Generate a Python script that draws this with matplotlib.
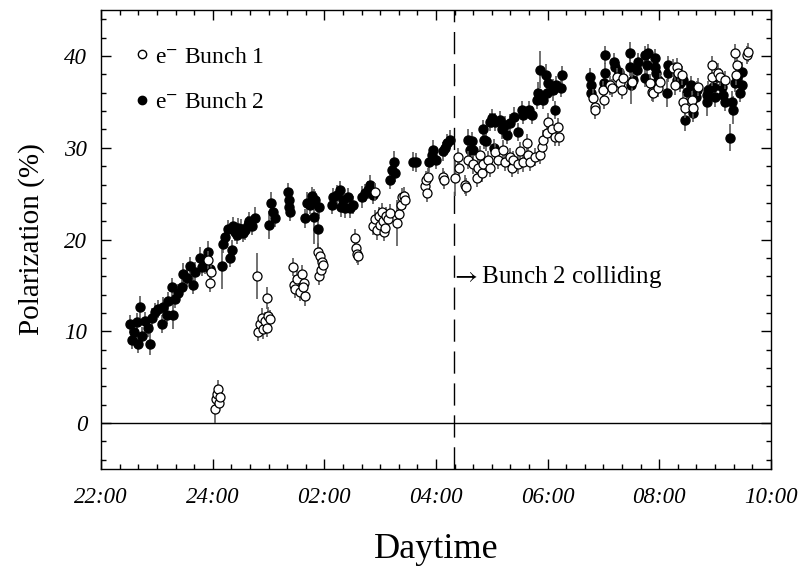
import matplotlib
matplotlib.use("Agg")
import matplotlib.pyplot as plt
from matplotlib.lines import Line2D
import numpy as np

plt.rcParams['font.family'] = ['Liberation Serif', 'DejaVu Serif']
plt.rcParams['mathtext.fontset'] = 'stix'

# time in hours (24 = midnight, 28 = 04:00), polarization in %, error in %
t1 = [23.92, 23.95, 23.97, 24.04, 24.06, 24.08, 24.10, 24.11, 24.13,
      24.80, 24.97, 24.81, 24.85, 24.89, 24.90, 24.94, 24.97, 24.99, 25.03,
      25.44, 25.46, 25.48, 25.51, 25.57, 25.60, 25.64, 25.66, 25.62,
      25.89, 25.91, 25.92, 25.94, 25.96, 25.98,
      26.55, 26.57, 26.59, 26.61,
      26.87, 26.91, 26.91, 26.95, 26.98, 27.00, 27.04, 27.05, 27.07, 27.09, 27.11, 27.14, 27.18,
      27.30, 27.34, 27.38, 27.39, 27.43, 27.45,
      27.81, 27.82, 27.84, 27.86, 28.13, 28.15,
      28.34, 28.40, 28.41, 28.52, 28.54, 28.58, 28.67, 28.74, 28.76, 28.79, 28.83, 28.85,
      28.94, 28.97, 29.06, 29.11, 29.20, 29.24, 29.33, 29.37, 29.38, 29.47, 29.51, 29.56,
      29.63, 29.65, 29.69, 29.78, 29.87, 29.90, 29.92, 29.99, 30.01, 30.08, 30.14, 30.19, 30.21,
      30.82, 30.84, 30.85, 31.00, 31.01, 31.12, 31.16, 31.25, 31.30, 31.34, 31.35, 31.52,
      31.84, 31.87, 31.89, 31.98, 32.02, 32.25, 32.29, 32.32, 32.34, 32.41, 32.43, 32.47,
      32.59, 32.61, 32.70, 32.95, 32.95, 33.06, 33.09, 33.18, 33.36, 33.40, 33.38, 33.58, 33.59]
p1 = [17.8, 15.3, 16.5, 1.5, 2.6, 3.2, 3.7, 2.2, 2.8,
      16.0, 13.6, 9.9, 10.8, 11.5, 10.2, 11.1, 10.4, 11.7, 11.3,
      17.0, 15.1, 14.6, 15.7, 14.3, 16.2, 15.3, 13.8, 14.8,
      18.6, 16.0, 18.2, 16.7, 17.6, 17.2,
      20.2, 19.1, 18.4, 18.2,
      21.5, 22.2, 25.2, 21.0, 22.6, 21.6, 23.0, 22.0, 20.8, 21.3, 22.6, 22.2, 22.9,
      21.8, 22.8, 23.8, 24.6, 24.7, 24.3,
      25.8, 26.5, 25.1, 26.8, 26.8, 26.5,
      26.7, 29.0, 27.8, 26.0, 25.7, 28.7, 28.2, 26.7, 27.8, 29.2, 27.3, 28.2,
      28.7, 27.8, 29.5, 28.7, 29.8, 28.5, 29.0, 27.8, 28.7, 28.2, 29.6, 28.4,
      30.5, 29.2, 28.5, 29.0, 29.2, 30.1, 30.9, 31.6, 32.8, 32.0, 31.2, 32.3, 31.2,
      35.4, 34.5, 34.1, 36.3, 35.2, 36.8, 36.5, 37.7, 37.1, 36.3, 37.6, 37.2,
      37.1, 36.1, 36.0, 36.5, 37.2, 38.7, 36.8, 38.8, 38.2, 37.9, 35.0, 34.3,
      35.2, 34.3, 36.6, 39.0, 37.7, 38.2, 37.7, 37.4, 40.3, 39.0, 37.9, 40.1, 40.4]
e1 = [1.0, 1.0, 1.0, 1.5, 1.0, 1.0, 1.0, 1.0, 1.0,
      2.5, 1.2, 1.0, 1.0, 1.0, 1.0, 1.0, 1.0, 1.0, 1.0,
      1.0, 1.0, 1.0, 1.0, 1.0, 1.0, 1.0, 1.0, 1.0,
      1.0, 1.0, 1.0, 1.0, 1.0, 1.0,
      1.0, 1.0, 1.0, 1.0,
      1.0, 1.0, 1.0, 1.0, 1.0, 1.0, 1.0, 1.0, 1.0, 1.0, 1.0, 1.0, 1.0,
      2.5, 1.0, 1.0, 1.0, 1.0, 1.0,
      1.0, 1.0, 1.0, 1.0, 1.0, 1.0,
      2.0, 1.0, 1.0, 1.0, 1.0, 1.0, 1.0, 1.0, 1.0, 1.0, 1.0, 1.0,
      1.0, 1.0, 1.0, 1.0, 1.0, 1.0, 1.0, 1.0, 1.0, 1.0, 1.0, 1.0,
      1.0, 1.0, 1.0, 1.0, 1.0, 1.0, 1.0, 1.0, 1.0, 1.0, 1.0, 1.0, 1.0,
      1.0, 1.0, 1.0, 1.0, 1.0, 1.0, 1.0, 1.0, 1.0, 1.0, 1.0, 1.0,
      1.0, 1.0, 1.0, 1.0, 1.0, 1.0, 1.0, 1.0, 1.0, 1.0, 1.0, 1.0,
      1.0, 1.0, 1.0, 1.0, 1.0, 1.0, 1.0, 1.0, 1.0, 1.0, 1.0, 1.0, 1.0]

t2 = [22.52, 22.56, 22.59, 22.65, 22.66, 22.70, 22.73, 22.79, 22.84, 22.88, 22.91, 22.97,
      23.02, 23.09, 23.11, 23.18, 23.20, 23.27, 23.29, 23.33, 23.38, 23.45, 23.47, 23.54,
      23.59, 23.65, 23.68, 23.77, 23.81, 23.86, 23.92, 23.95,
      24.17, 24.19, 24.22, 24.28, 24.31, 24.35, 24.37, 24.40, 24.44, 24.46, 24.51, 24.54,
      24.58, 24.63, 24.65, 24.71, 24.76,
      25.01, 25.05, 25.08, 25.12, 25.35, 25.36, 25.37, 25.39,
      25.66, 25.69, 25.75, 25.78, 25.82, 25.84, 25.89, 25.91,
      26.14, 26.16, 26.23, 26.28, 26.29, 26.34, 26.37, 26.43, 26.46, 26.52,
      26.68, 26.73, 26.78, 26.82, 26.87,
      27.18, 27.22, 27.25, 27.27, 27.59, 27.65, 27.88, 27.93, 27.95, 28.00,
      28.13, 28.16, 28.20, 28.25,
      28.58, 28.61, 28.65, 28.67, 28.85, 28.86, 28.90, 28.97, 29.01, 29.03, 29.06,
      29.15, 29.19, 29.24, 29.28, 29.33, 29.40, 29.46, 29.54, 29.56, 29.67, 29.72,
      29.81, 29.83, 29.87, 29.92, 29.97, 29.99, 30.01, 30.10, 30.14, 30.15, 30.24, 30.26,
      30.76, 30.78, 30.77, 31.03, 31.03, 31.01, 31.18, 31.21, 31.27,
      31.48, 31.48, 31.49, 31.53, 31.61, 31.62, 31.75, 31.75, 31.78, 31.80,
      31.93, 31.93, 31.95, 31.98, 32.14, 32.16, 32.16, 32.29, 32.32, 32.38, 32.43,
      32.47, 32.50, 32.56, 32.61, 32.65, 32.68, 32.86, 32.86, 32.88, 32.97, 33.00,
      33.04, 33.13, 33.15, 33.18, 33.27, 33.31, 33.33, 33.36, 33.40, 33.45, 33.49, 33.49]
p2 = [10.8, 9.1, 9.9, 11.0, 8.6, 12.6, 9.5, 11.1, 10.4, 8.6, 11.5, 12.1,
      12.4, 10.8, 12.7, 11.8, 13.3, 14.8, 11.8, 13.5, 14.2, 14.8, 16.2, 15.8,
      17.1, 15.1, 16.5, 18.0, 17.0, 17.3, 18.6, 16.8,
      17.1, 19.5, 20.3, 21.1, 18.0, 18.9, 21.5, 20.8, 20.5, 21.3, 21.2, 20.7,
      21.0, 21.6, 22.0, 21.5, 22.4,
      21.6, 24.0, 23.0, 22.4, 25.2, 24.3, 23.5, 23.0,
      22.3, 24.0, 23.8, 24.7, 22.5, 24.3, 21.1, 23.6,
      23.8, 24.6, 24.9, 25.4, 23.5, 24.3, 23.4, 24.6, 23.4, 23.8,
      24.6, 25.1, 25.4, 26.0, 24.9,
      26.5, 27.6, 28.4, 27.3, 28.5, 28.4, 28.4, 29.2, 29.8, 28.7,
      29.6, 30.0, 30.5, 30.9,
      30.9, 29.8, 30.7, 29.8, 32.0, 30.9, 30.7, 32.8, 33.2, 30.0, 32.8,
      33.0, 32.0, 32.5, 31.4, 32.7, 33.4, 31.7, 34.1, 33.6, 34.1, 33.6,
      35.2, 36.0, 38.5, 35.2, 37.9, 36.0, 37.1, 36.3, 34.1, 36.8, 36.5, 37.9,
      37.7, 36.8, 36.0, 40.1, 38.2, 37.1, 39.3, 38.8, 38.3,
      40.3, 38.8, 36.8, 37.4, 38.5, 39.3, 40.1, 37.6, 39.0, 40.3,
      39.8, 38.8, 38.2, 37.4, 36.0, 39.0, 38.2, 38.3, 37.4, 37.1, 37.4,
      33.0, 36.1, 36.8, 33.8, 35.5, 36.3, 35.8, 35.0, 36.3, 36.6, 35.5,
      37.7, 36.6, 35.8, 35.0, 31.1, 35.0, 34.1, 37.1, 37.7, 36.0, 36.8, 38.3]
e2 = [1.0, 1.0, 1.0, 1.0, 1.0, 1.2, 1.0, 1.0, 1.0, 1.2, 1.0, 1.0,
      1.0, 1.0, 1.0, 1.0, 1.0, 1.0, 1.5, 1.0, 1.0, 1.0, 1.2, 1.0,
      1.0, 1.0, 1.0, 1.2, 1.0, 1.0, 1.2, 1.0,
      2.5, 1.0, 1.0, 1.0, 1.0, 1.0, 1.0, 1.0, 1.0, 1.0, 1.0, 1.0,
      1.0, 1.0, 1.0, 1.0, 1.2,
      1.5, 1.2, 1.0, 1.0, 1.0, 1.0, 1.0, 1.0,
      1.0, 1.2, 1.0, 1.0, 3.0, 1.0, 3.0, 1.0,
      1.0, 1.0, 1.0, 1.0, 1.0, 1.0, 1.0, 1.0, 1.0, 1.0,
      1.2, 1.0, 1.0, 1.0, 1.0,
      1.0, 1.0, 1.2, 1.0, 1.0, 1.0, 1.0, 1.0, 1.0, 1.0,
      1.0, 1.0, 1.0, 1.0,
      1.2, 1.0, 1.0, 1.0, 1.0, 1.0, 1.0, 1.0, 1.0, 1.0, 1.0,
      1.0, 1.0, 1.0, 1.0, 1.0, 1.0, 1.0, 1.0, 1.0, 1.0, 1.0,
      1.0, 1.2, 2.0, 1.0, 1.2, 1.0, 1.0, 1.2, 1.0, 1.0, 1.0, 1.0,
      1.0, 1.2, 1.0, 1.0, 1.0, 1.0, 1.0, 1.0, 1.0,
      1.2, 1.0, 2.0, 1.0, 1.0, 1.0, 1.0, 1.0, 1.0, 1.0,
      1.0, 1.0, 1.0, 1.0, 1.5, 1.0, 1.0, 1.0, 1.0, 1.0, 1.0,
      1.2, 1.0, 1.0, 1.0, 1.0, 1.0, 1.0, 1.5, 1.0, 1.0, 1.0,
      1.0, 1.0, 1.0, 1.0, 1.5, 1.2, 1.5, 1.0, 1.0, 1.0, 1.0, 1.0]

xticks = [22, 24, 26, 28, 30, 32, 34]
xticklabels = ["22:00", "24:00", "02:00", "04:00", "06:00", "08:00", "10:00"]
collide_time = 28.33

fig = plt.figure(figsize=(8.03, 5.67), dpi=100)
ax = fig.add_axes([0.126, 0.173, 0.834, 0.809])

ax.errorbar(t2, p2, yerr=e2, fmt='o', ms=6.5, mfc='black', mec='black',
            ecolor='0.35', elinewidth=1.2, capsize=0, zorder=3)
ax.errorbar(t1, p1, yerr=e1, fmt='o', ms=6.5, mfc='white', mec='black', mew=0.9,
            ecolor='0.35', elinewidth=1.2, capsize=0, zorder=4)

ax.axhline(0, color='black', lw=1.0, zorder=1)
ax.axvline(collide_time, color='black', lw=1.0, linestyle=(0, (16, 7)), zorder=1)
ax.text(collide_time - 0.06, 15.9, r"$\rightarrow$Bunch 2 colliding", fontsize=18, va='center')

ax.set_xlim(22, 34)
ax.set_ylim(-5, 45)
ax.set_xticks(xticks)
ax.set_xticklabels(xticklabels, fontstyle='italic', fontsize=16.5)
ax.set_xticks(np.arange(22, 34.01, 1 / 3), minor=True)
ax.set_yticks([0, 10, 20, 30, 40])
ax.set_yticklabels(["0", "10", "20", "30", "40"], fontstyle='italic', fontsize=16.5)
ax.set_yticks(np.arange(-4, 45, 2), minor=True)
ax.tick_params(which='both', direction='in', top=True, right=True, width=1.0)
ax.tick_params(which='major', length=7.5)
ax.tick_params(which='minor', length=3.8)
ax.tick_params(axis='x', which='major', pad=13)
ax.tick_params(axis='y', which='major', pad=10)
for s in ax.spines.values():
    s.set_linewidth(1.0)

ax.set_xlabel("Daytime", fontsize=26, labelpad=18)
ax.set_ylabel("Polarization (%)", fontsize=21, labelpad=14)

handles = [Line2D([], [], marker='o', ls='none', ms=6, mfc='white', mec='black'),
           Line2D([], [], marker='o', ls='none', ms=6, mfc='black', mec='black')]
ax.legend(handles, ["e$^{-}$ Bunch 1", "e$^{-}$ Bunch 2"], loc='upper left',
          bbox_to_anchor=(0.02, 0.968), frameon=False, fontsize=17,
          handlelength=0.5, handletextpad=0.3, labelspacing=1.02)

fig.savefig("out.png", dpi=100)
